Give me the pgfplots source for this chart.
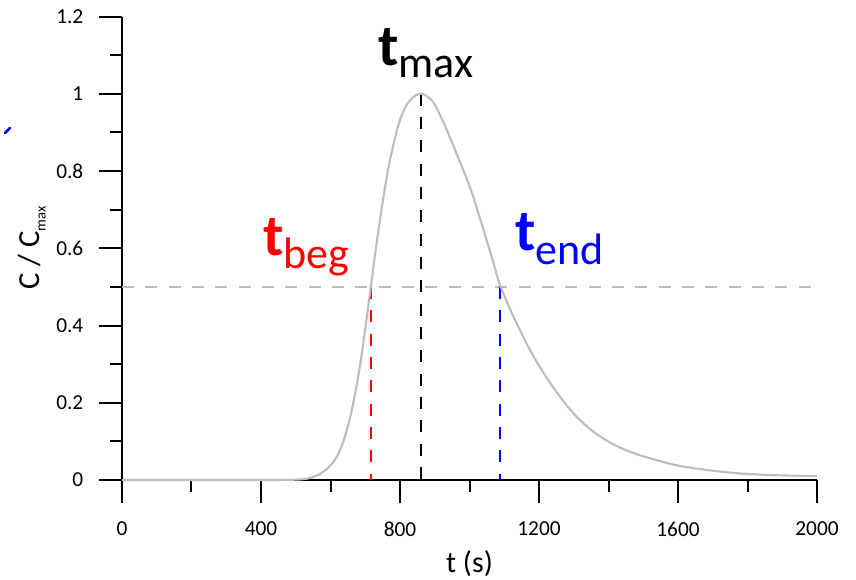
\documentclass[border=0pt]{standalone}
\usepackage{pgfplots}
\pgfplotsset{compat=1.18}
\usepackage{fontspec}
\setmainfont{Carlito}
\definecolor{curvegray}{HTML}{BDBDBD}
\definecolor{dashgray}{HTML}{BDBDBD}
\definecolor{tred}{HTML}{FF0000}
\definecolor{tblue}{HTML}{0000FF}

\pgfplotstableread{
t v
0 0
400 0
480 0.0005
520 0.002
545 0.006
570 0.016
595 0.033
618 0.060
637 0.100
656 0.160
670 0.220
685 0.296
699 0.385
716 0.500
730 0.595
745 0.690
765 0.800
782 0.872
797 0.924
815 0.965
830 0.984
845 0.996
860 1.000
875 0.995
896 0.978
920 0.936
945 0.884
973 0.823
992 0.780
1011 0.733
1030 0.678
1049 0.622
1068 0.565
1085 0.512
1105 0.467
1126 0.424
1150 0.379
1174 0.337
1200 0.296
1230 0.254
1260 0.216
1289 0.183
1318 0.155
1355 0.126
1395 0.102
1440 0.081
1491 0.064
1540 0.051
1586 0.040
1635 0.032
1683 0.026
1730 0.021
1778 0.017
1826 0.0145
1874 0.0125
1940 0.011
2000 0.010
}\curvedata

\begin{document}
\begin{tikzpicture}
\begin{axis}[
  scale only axis,
  width=521.25pt, height=347.6pt,
  at={(0,0)}, anchor=south west,
  xmin=0, xmax=2000, ymin=0, ymax=1.2,
  axis lines*=left,
  axis line style={line width=1.5pt, black},
  tick style={line width=1.5pt, black},
  tick align=outside,
  major tick length=17.5pt,
  minor tick length=9pt,
  xtick={0,400,800,1200,1600,2000},
  ytick={0,0.2,0.4,0.6,0.8,1,1.2},
  yticklabels={0,0.2,0.4,0.6,0.8,1,1.2},
  xticklabels={0,400,800,1200,1600,2000},
  minor x tick num=1, minor y tick num=1,
  tick label style={font=\fontsize{16}{18}\selectfont},
  xticklabel style={yshift=-10.5pt},
  yticklabel style={xshift=-8pt},
  xlabel={t (s)},
  ylabel={C / C\raisebox{-4.5pt}{\fontsize{11}{11}\selectfont max}},
  xlabel style={font=\fontsize{22.5}{24}\selectfont, at={(axis description cs:0.5,0)}, anchor=center, yshift=-63pt},
  ylabel style={font=\fontsize{23}{24}\selectfont, at={(axis description cs:-0.1295,0.5)}, anchor=center},
  clip=false,
]
\addplot[dashgray, line width=1.5pt, dash pattern=on 9pt off 8.5pt] coordinates {(0,0.5) (2000,0.5)};
\addplot[tred, line width=1.6pt, dash pattern=on 9pt off 8.5pt] coordinates {(716,0.5) (716,0)};
\addplot[black, line width=1.6pt, dash pattern=on 9pt off 8.5pt] coordinates {(860,1) (860,0)};
\addplot[tblue, line width=1.6pt, dash pattern=on 9pt off 8.5pt] coordinates {(1088,0.5) (1088,0)};
\addplot[curvegray, line width=1.6pt, smooth, tension=0.5] table[x=t,y=v] {\curvedata};

\node[anchor=base west, inner sep=0pt, text=black] at (axis cs:737,1.073)
  {{\fontsize{44}{44}\selectfont\bfseries t}\raisebox{-9pt}{\fontsize{33}{33}\selectfont max}};
\node[anchor=base west, inner sep=0pt, text=tred] at (axis cs:406,0.582)
  {{\fontsize{44}{44}\selectfont\bfseries t}\raisebox{-9.75pt}{\fontsize{33}{33}\selectfont beg}};
\node[anchor=base west, inner sep=0pt, text=tblue] at (axis cs:1131,0.595)
  {{\fontsize{44}{44}\selectfont\bfseries t}\raisebox{-11pt}{\fontsize{33}{33}\selectfont end}};
\end{axis}
\draw[tblue, line width=1.9pt, line cap=round] (-87.75pt,260.25pt) -- (-84pt,264pt);
\pgfresetboundingbox
\path (-91.5pt,-74.25pt) rectangle (550.5pt,360pt);
\end{tikzpicture}
\end{document}
